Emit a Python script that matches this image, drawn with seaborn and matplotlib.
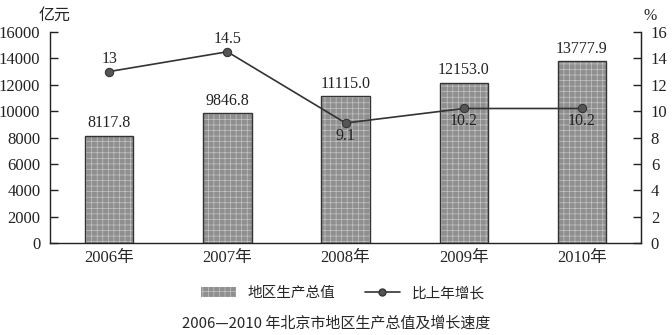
import matplotlib
matplotlib.use("Agg")
import matplotlib.pyplot as plt
import seaborn as sns
import pandas as pd
import numpy as np
from matplotlib.patches import Patch, Rectangle
from matplotlib.lines import Line2D

years = ["2006年", "2007年", "2008年", "2009年", "2010年"]
gdp = [8117.8, 9846.8, 11115.0, 12153.0, 13777.9]
gdp_labels = ["8117.8", "9846.8", "11115.0", "12153.0", "13777.9"]
growth = [13, 14.5, 9.1, 10.2, 10.2]
growth_labels = ["13", "14.5", "9.1", "10.2", "10.2"]
left_ticks = [0, 2000, 4000, 6000, 8000, 10000, 12000, 14000, 16000]
right_ticks = [0, 2, 4, 6, 8, 10, 12, 14, 16]

sns.set_style("white")
plt.rcParams['font.family'] = ['Liberation Serif', 'Noto Sans CJK SC']
plt.rcParams['hatch.linewidth'] = 0.5

BAR_FACE = "#8f8f8f"
HATCH_COL = "#c4c4c4"
EDGE = "#333333"

fig = plt.figure(figsize=(6.72, 3.35), dpi=100)
ax = fig.add_axes([0.0744, 0.2746, 0.8796, 0.6299])

df = pd.DataFrame({"year": years, "gdp": gdp, "growth": growth, "pos": np.arange(len(years))})
sns.barplot(data=df, x="year", y="gdp", ax=ax, color=BAR_FACE, width=0.41,
            edgecolor=EDGE, linewidth=1.0, saturation=1)
for p in list(ax.patches):
    p.set_hatch("+++")
    if hasattr(p, "set_hatchcolor"):
        p.set_hatchcolor(HATCH_COL)
    else:
        p.set_edgecolor(HATCH_COL)
        p.set_linewidth(0)
        ax.add_patch(Rectangle(p.get_xy(), p.get_width(), p.get_height(),
                               fill=False, edgecolor=EDGE, linewidth=1.0))
ax.set_xlim(-0.5, 4.5)
ax.set_ylim(0, 16000)
ax.set_yticks(left_ticks)
ax.set_yticklabels([str(t) for t in left_ticks], fontsize=12)
ax.set_xlabel("")
ax.set_ylabel("")
ax.tick_params(axis='y', direction='in', length=6, width=1, pad=7, colors='#222222')
ax.set_xticks(range(len(years)))
ax.set_xticklabels(years, fontsize=12)
ax.tick_params(axis='x', length=0, pad=5)
for sp in ["left", "bottom", "right"]:
    ax.spines[sp].set_color("#222222")
    ax.spines[sp].set_linewidth(1.0)
ax.spines["top"].set_visible(False)
ax.set_xticks(np.arange(0.5, 4.5, 1.0), minor=True)
ax.tick_params(axis='x', which='minor', direction='in', length=5, width=1, color='#222222')

for i, (v, lab) in enumerate(zip(gdp, gdp_labels)):
    ax.text(i, v + 350, lab, ha='center', va='bottom', fontsize=11.5, color='#222222')

ax2 = ax.twinx()
sns.lineplot(data=df, x="pos", y="growth", ax=ax2, color="#333333", linewidth=1.2,
             marker='o', markersize=6, markeredgecolor="#333333", markerfacecolor="#555555")
ax2.set_ylim(0, 16)
ax2.set_yticks(right_ticks)
ax2.set_yticklabels([str(t) for t in right_ticks], fontsize=12)
ax2.set_ylabel("")
ax2.set_xlabel("")
ax2.tick_params(axis='y', direction='in', length=6, width=1, pad=7, colors='#222222')
for sp in ["top", "left", "bottom"]:
    ax2.spines[sp].set_visible(False)
ax2.spines["right"].set_color("#222222")
ax2.set_xlim(-0.5, 4.5)

offsets = [0.95, 0.95, -0.95, -0.95, -0.95]
for i, (v, lab, o) in enumerate(zip(growth, growth_labels, offsets)):
    ax2.text(i, v + o, lab, ha='center', va='center', fontsize=11.5, color='#222222')

fig.text(0.058, 0.955, "亿元", fontsize=11.5, family=['Noto Sans CJK SC'], ha='left', va='center')
fig.text(0.957, 0.952, "%", fontsize=11.5, ha='left', va='center')

lh = Patch(facecolor=BAR_FACE, edgecolor=HATCH_COL, hatch="+++", linewidth=0)
handles = [lh,
           Line2D([0], [0], color="#333333", lw=1.2, marker='o', markersize=5,
                  markerfacecolor="#555555", markeredgecolor="#333333")]
leg = fig.legend(handles, ["地区生产总值", "比上年增长"], loc='center', bbox_to_anchor=(0.51, 0.125),
                 ncol=2, frameon=False, handlelength=2.4, columnspacing=2.0,
                 prop={'family': ['Noto Sans CJK SC'], 'size': 10.5})

fig.text(0.5, 0.035, "2006—2010 年北京市地区生产总值及增长速度", ha='center', va='center',
         fontsize=10.8, family=['Noto Sans CJK SC', 'DejaVu Sans'])

fig.savefig("out.png", dpi=100)
